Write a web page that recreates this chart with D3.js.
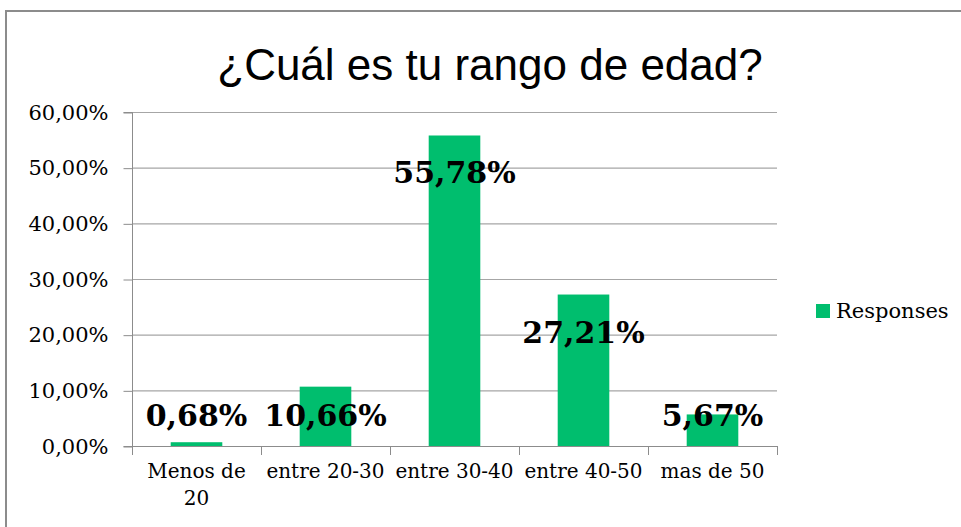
<!DOCTYPE html>
<html>
<head>
<meta charset="utf-8">
<script src="https://cdnjs.cloudflare.com/ajax/libs/d3/7.8.5/d3.min.js"></script>
<style>
  body { margin: 0; background: #fff; }
  svg { display: block; }
</style>
</head>
<body>
<script>
// chart data
var categories = [["Menos de", "20"], ["entre 20-30"], ["entre 30-40"], ["entre 40-50"], ["mas de 50"]];
var values = [0.68, 10.66, 55.78, 27.21, 5.67];
var valueLabels = ["0,68%", "10,66%", "55,78%", "27,21%", "5,67%"];
var yTicks = [0, 10, 20, 30, 40, 50, 60];
var seriesName = "Responses";
var title = "¿Cuál es tu rango de edad?";

var W = 961, H = 527;
var green = "#00BE6E";
var serif = "'DejaVu Serif', serif";

var svg = d3.select("body").append("svg").attr("width", W).attr("height", H);

// outer chart border (only top and left visible)
svg.append("path")
    .attr("d", "M6,527 V11 H961")
    .attr("fill", "none")
    .attr("stroke", "#8c8c8c")
    .attr("stroke-width", 2);

var pLeft = 132, pRight = 777, pTop = 112, pBottom = 446;

var x = d3.scaleBand().domain(d3.range(values.length)).range([pLeft, pRight]).paddingInner(0.6).paddingOuter(0.3);
var xb = d3.scaleBand().domain(d3.range(values.length)).range([pLeft, pRight]);
var y = d3.scaleLinear().domain([0, 60]).range([pBottom, pTop]);

// title
svg.append("text")
    .attr("x", 490).attr("y", 80)
    .attr("text-anchor", "middle")
    .style("font-family", "'Liberation Sans', Arial, sans-serif")
    .style("font-size", "44px")
    .text(title);

// gridlines
svg.selectAll(".grid").data(yTicks.slice(1)).enter().append("line")
    .attr("x1", pLeft).attr("x2", pRight)
    .attr("y1", function(d) { return y(d) + 0.5; })
    .attr("y2", function(d) { return y(d) + 0.5; })
    .attr("stroke", "#a6a6a6").attr("stroke-width", 1.2);

// y axis
var yAxis = d3.axisLeft(y).tickValues(yTicks).tickSize(9).tickPadding(15)
    .tickFormat(function(d) { return d.toFixed(2).replace(".", ",") + "%"; });
var gy = svg.append("g").attr("transform", "translate(" + (pLeft + 0.5) + ",0.5)").call(yAxis);
gy.select(".domain").attr("stroke", "#8c8c8c").attr("d", "M-9," + pTop + "H0V" + pBottom + "H-9");
gy.selectAll(".tick line").attr("stroke", "#8c8c8c");
gy.selectAll(".tick text").style("font-family", serif).style("font-size", "21px").attr("fill", "#000");

// x axis line and tick marks at category boundaries
svg.append("line")
    .attr("x1", pLeft).attr("x2", pRight)
    .attr("y1", pBottom + 0.5).attr("y2", pBottom + 0.5)
    .attr("stroke", "#8c8c8c");
svg.selectAll(".xtick").data(d3.range(values.length + 1)).enter().append("line")
    .attr("x1", function(i) { return pLeft + i * xb.step() + 0.5; })
    .attr("x2", function(i) { return pLeft + i * xb.step() + 0.5; })
    .attr("y1", pBottom).attr("y2", pBottom + 9)
    .attr("stroke", "#8c8c8c");

// bars
svg.selectAll(".bar").data(values).enter().append("rect")
    .attr("x", function(d, i) { return x(i); })
    .attr("width", x.bandwidth())
    .attr("y", function(d) { return y(d); })
    .attr("height", function(d) { return y(0) - y(d); })
    .attr("fill", green);

// category labels
var xl = svg.selectAll(".xl").data(categories).enter().append("text")
    .attr("text-anchor", "middle")
    .attr("x", function(d, i) { return xb(i) + xb.bandwidth() / 2; })
    .attr("y", 478)
    .style("font-family", serif).style("font-size", "20px");
xl.selectAll("tspan").data(function(d) { return d; }).enter().append("tspan")
    .attr("x", function() { return d3.select(this.parentNode).attr("x"); })
    .attr("dy", function(d, j) { return j === 0 ? 0 : 27; })
    .text(function(d) { return d; });

// data labels (inside end, clamped near the axis)
svg.selectAll(".vl").data(values).enter().append("text")
    .attr("text-anchor", "middle")
    .attr("x", function(d, i) { return xb(i) + xb.bandwidth() / 2; })
    .attr("y", function(d) { return Math.min(y(d) + 48, y(0) - 20); })
    .style("font-family", serif).style("font-weight", "bold").style("font-size", "30px")
    .text(function(d, i) { return valueLabels[i]; });

// legend
svg.append("rect").attr("x", 816).attr("y", 304).attr("width", 14).attr("height", 14).attr("fill", green);
svg.append("text").attr("x", 836).attr("y", 318)
    .style("font-family", serif).style("font-size", "21px")
    .text(seriesName);
</script>
</body>
</html>
